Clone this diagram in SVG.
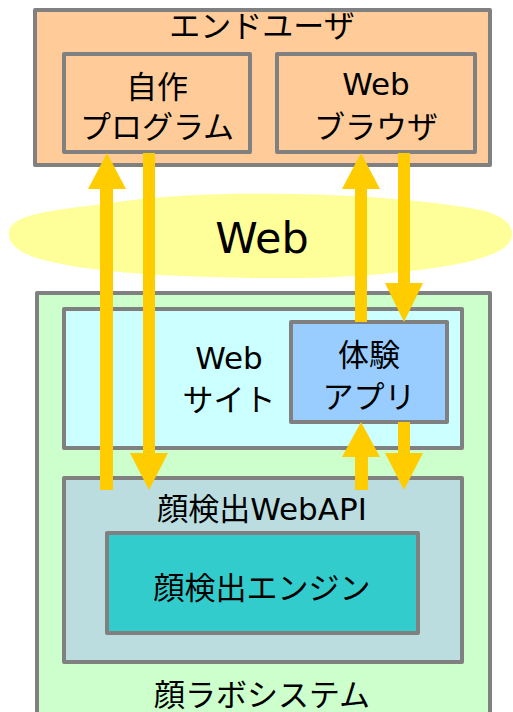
<svg xmlns="http://www.w3.org/2000/svg" width="513" height="712" viewBox="0 0 513 712">
<style>
.box{stroke:#808080;stroke-width:4;stroke-linejoin:round}
.t{font-family:"DejaVu Sans","Noto Sans CJK JP",sans-serif;font-size:31px;fill:#000;text-anchor:middle}
.ar{fill:#FFCC00}
</style>
<rect width="513" height="712" fill="#fff"/>
<g id="enduser">
<rect class="box" x="35" y="10" width="455" height="155" fill="#FFCC99"/>
<text class="t" x="262" y="37">エンドユーザ</text>
</g>
<g id="jisaku">
<rect class="box" x="64" y="54" width="186" height="98" fill="#FFCC99"/>
<text class="t" x="157" y="98">自作</text>
<text class="t" x="157" y="138">プログラム</text>
</g>
<g id="browser">
<rect class="box" x="277" y="54" width="198" height="98" fill="#FFCC99"/>
<text class="t" x="376" y="95">Web</text>
<text class="t" x="376" y="138">ブラウザ</text>
</g>
<g id="web">
<path d="M10,228 C20,212 60,210 110,203 C170,194 230,193 290,194 C360,195 420,200 470,208 C505,214 513,225 512,236 C510,252 480,262 420,270 C350,279 280,279 210,277 C140,275 80,270 40,259 C15,252 5,240 10,228 Z" fill="#FFFF99"/>
<text class="t" x="262" y="253" style="font-size:43px">Web</text>
</g>
<g id="kaolab">
<rect class="box" x="37" y="293" width="453" height="440" fill="#CCFFCC"/>
<text class="t" x="262" y="706">顔ラボシステム</text>
</g>
<g id="website">
<rect class="box" x="64" y="309" width="398" height="139" fill="#CCFFFF"/>
<text class="t" x="229" y="369">Web</text>
<text class="t" x="229" y="411">サイト</text>
</g>
<g id="taiken">
<rect class="box" x="291" y="322" width="156" height="100" fill="#99CCFF"/>
<text class="t" x="369" y="366">体験</text>
<text class="t" x="369" y="408">アプリ</text>
</g>
<g id="webapi">
<rect class="box" x="64" y="478" width="398" height="184" fill="#BBDDE0"/>
<text class="t" x="262" y="520">顔検出WebAPI</text>
</g>
<g id="engine">
<rect class="box" x="107" y="533" width="311" height="100" fill="#33CCCC"/>
<text class="t" x="262" y="599">顔検出エンジン</text>
</g>
<g id="connectors">
<rect class="ar" x="100" y="188" width="13" height="302"/>
<polygon class="ar" points="88,189 107,153 126,189"/>
<rect class="ar" x="143" y="153" width="12" height="301"/>
<polygon class="ar" points="130,453 149,490 168,453"/>
<rect class="ar" x="355" y="188" width="12" height="134"/>
<polygon class="ar" points="342,189 361,153 380,189"/>
<rect class="ar" x="398" y="153" width="12" height="131"/>
<polygon class="ar" points="385,283 404,322 423,283"/>
<rect class="ar" x="355" y="456" width="13" height="34"/>
<polygon class="ar" points="342,457 361,422 380,457"/>
<rect class="ar" x="398" y="422" width="12" height="32"/>
<polygon class="ar" points="385,453 404,490 423,453"/>
</g>
</svg>
